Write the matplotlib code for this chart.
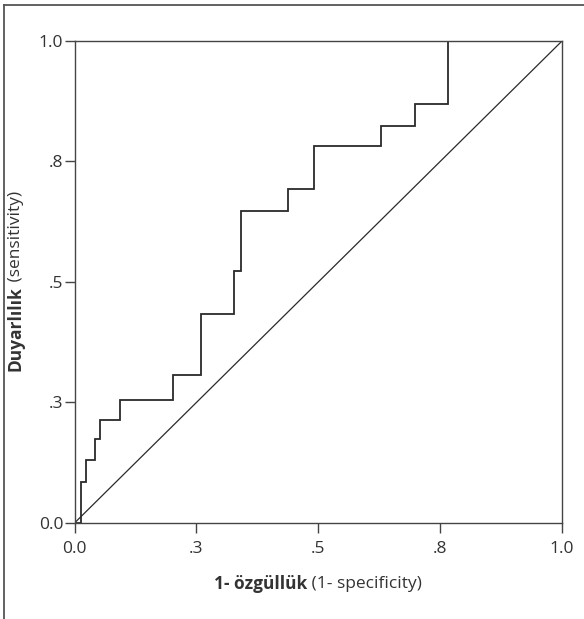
import matplotlib
matplotlib.use("Agg")
import matplotlib.pyplot as plt
from matplotlib.lines import Line2D

# ROC step curve (1-specificity, sensitivity)
fpr = [0.0, 0.014, 0.014, 0.024, 0.024, 0.041, 0.041, 0.053, 0.053, 0.094, 0.094,
       0.203, 0.203, 0.259, 0.259, 0.328, 0.328, 0.342, 0.342, 0.437, 0.437,
       0.492, 0.492, 0.629, 0.629, 0.698, 0.698, 0.767, 0.767, 1.0]
tpr = [0.0, 0.0, 0.085, 0.085, 0.130, 0.130, 0.175, 0.175, 0.214, 0.214, 0.256,
       0.256, 0.307, 0.307, 0.434, 0.434, 0.522, 0.522, 0.648, 0.648, 0.692,
       0.692, 0.783, 0.783, 0.823, 0.823, 0.869, 0.869, 1.0, 1.0]
ref_x = [0.0, 1.0]
ref_y = [0.0, 1.0]
tick_pos = [0.0, 0.25, 0.5, 0.75, 1.0]
tick_labels = ["0.0", ".3", ".5", ".8", "1.0"]

FONT = ["Open Sans", "DejaVu Sans"]
plt.rcParams["font.family"] = FONT
TXT = "#333333"
FS = 12.5

fig = plt.figure(figsize=(5.84, 6.19), dpi=100)
ax = fig.add_axes([0.1276, 0.1551, 0.8348, 0.7787])

ax.plot(fpr, tpr, color="#2a2a2a", lw=1.3, solid_joinstyle="miter")
ax.plot(ref_x, ref_y, color="#2a2a2a", lw=0.9)

ax.set_xlim(0, 1)
ax.set_ylim(0, 1)
ax.set_xticks(tick_pos)
ax.set_xticklabels(tick_labels)
ax.set_yticks(tick_pos)
ax.set_yticklabels(tick_labels)
ax.tick_params(direction="out", length=7, width=1.0, color="#444444",
               labelsize=FS, labelcolor=TXT)
ax.tick_params(axis="y", pad=1)
ax.tick_params(axis="x", pad=6)
for s in ax.spines.values():
    s.set_color("#444444")
    s.set_linewidth(1.0)

# outer frame (top and left edges)
fig.add_artist(Line2D([3.5/584, 3.5/584], [0, 1 - 5/619], transform=fig.transFigure,
                      color="#555555", lw=1.3))
fig.add_artist(Line2D([3.5/584, 1], [1 - 5/619, 1 - 5/619], transform=fig.transFigure,
                      color="#555555", lw=1.3))

# composite axis labels (bold Turkish term + regular English gloss)
fig.canvas.draw()
r = fig.canvas.get_renderer()
W = fig.bbox.width
H = fig.bbox.height

def label_x(bold, reg, cx_px, cy_px_from_top):
    cy = 1 - cy_px_from_top / H
    t1 = fig.text(0, cy, bold, fontsize=FS, fontweight="bold", color=TXT, va="center", ha="left")
    t2 = fig.text(0, cy, reg, fontsize=FS, color=TXT, va="center", ha="left")
    w1 = t1.get_window_extent(r).width
    w2 = t2.get_window_extent(r).width
    x0 = cx_px - (w1 + w2) / 2
    t1.set_x(x0 / W)
    t2.set_x((x0 + w1) / W)

def label_y(bold, reg, cx_px, cy_px_from_top):
    cx = cx_px / W
    t1 = fig.text(cx, 0, bold, fontsize=FS, fontweight="bold", color=TXT,
                  va="center", ha="center", rotation=90)
    t2 = fig.text(cx, 0, reg, fontsize=FS, color=TXT,
                  va="center", ha="center", rotation=90)
    h1 = t1.get_window_extent(r).height
    h2 = t2.get_window_extent(r).height
    cy = H - cy_px_from_top
    y0 = cy - (h1 + h2) / 2
    t1.set_y((y0 + h1 / 2) / H)
    t2.set_y((y0 + h1 + h2 / 2) / H)

label_x("1- özgüllük", " (1- specificity)", 318, 584)
label_y("Duyarlılık", " (sensitivity)", 16, 281)

fig.savefig("out.png", dpi=100)
